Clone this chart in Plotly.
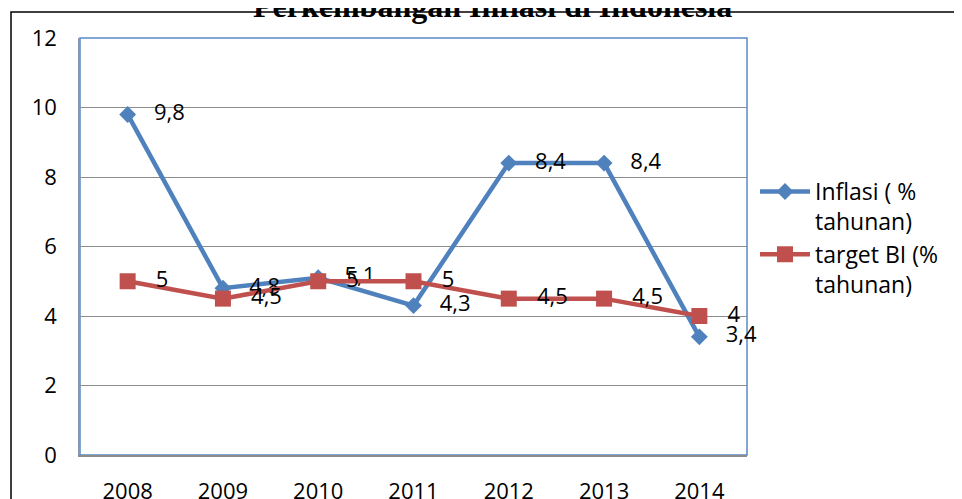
import plotly.graph_objects as go

years = ["2008", "2009", "2010", "2011", "2012", "2013", "2014"]
inflasi = [9.8, 4.8, 5.1, 4.3, 8.4, 8.4, 3.4]
target_bi = [5, 4.5, 5, 5, 4.5, 4.5, 4]
y_ticks = [0, 2, 4, 6, 8, 10, 12]
title_text = "Perkembangan Inflasi di Indonesia"
names = ["Inflasi ( %<br>tahunan)", "target BI (%<br>tahunan)"]


def fmt(v):
    return ("%g" % v).replace(".", ",")


FONT = "Open Sans"
FS = 22
BLUE = "#4F81BD"
RED = "#C0504D"

# page body has an 8px margin, so the figure is laid out 8px up/left
L, T, PW, PH = 72, 30, 667, 417

fig = go.Figure()
fig.add_trace(go.Scatter(
    x=years, y=inflasi, name=names[0], mode="lines+markers+text",
    line=dict(color=BLUE, width=4.5),
    marker=dict(symbol="diamond", size=13, color=BLUE),
    text=["   " + fmt(v) for v in inflasi], textposition="middle right",
    textfont=dict(family=FONT, size=FS, color="black"),
    cliponaxis=False,
))
fig.add_trace(go.Scatter(
    x=years, y=target_bi, name=names[1], mode="lines+markers+text",
    line=dict(color=RED, width=4.5),
    marker=dict(symbol="square", size=16, color=RED),
    text=["   " + fmt(v) for v in target_bi], textposition="middle right",
    textfont=dict(family=FONT, size=FS, color="black"),
    cliponaxis=False,
))

fig.update_layout(
    width=962, height=499,
    margin=dict(l=L, r=962 - L - PW, t=T, b=499 - T - PH, autoexpand=False),
    paper_bgcolor="white", plot_bgcolor="white",
    font=dict(family=FONT, size=FS, color="black"),
    showlegend=True,
    legend=dict(x=1.012, xanchor="left", y=(PH - 132) / PH, yanchor="top",
                font=dict(family=FONT, size=23, color="black"),
                itemwidth=50, valign="top", tracegroupgap=13,
                bgcolor="rgba(0,0,0,0)"),
    xaxis=dict(type="category", range=[-0.5, 6.5], showgrid=False,
               showline=True, linecolor="#8C8C8C", linewidth=1.5,
               ticks="", ticklabelstandoff=16, zeroline=False, automargin=False),
    yaxis=dict(range=[0, 12], tickvals=y_ticks, showgrid=True,
               gridcolor="#8C8C8C", gridwidth=1.2,
               showline=True, linecolor="#8898B0", linewidth=1.5,
               ticks="", ticklabelstandoff=17, zeroline=False, automargin=False),
    shapes=[
        dict(type="rect", xref="x domain", yref="y domain", x0=0, x1=1, y0=0, y1=1,
             line=dict(color="#5B8BC7", width=1.5), layer="below"),
        dict(type="rect", xref="paper", yref="paper",
             x0=(3 - L) / PW, x1=1.5, y0=-0.5, y1=(T + PH - 4) / PH,
             line=dict(color="black", width=1.5), layer="below"),
    ],
    annotations=[dict(text="<b>" + title_text + "</b>", xref="paper", yref="paper",
                      x=(484 - L) / PW, y=1 + 32 / PH, xanchor="center", yanchor="middle",
                      showarrow=False,
                      font=dict(family="Liberation Serif", size=32, color="black"))],
)

fig.write_html("out.html")
